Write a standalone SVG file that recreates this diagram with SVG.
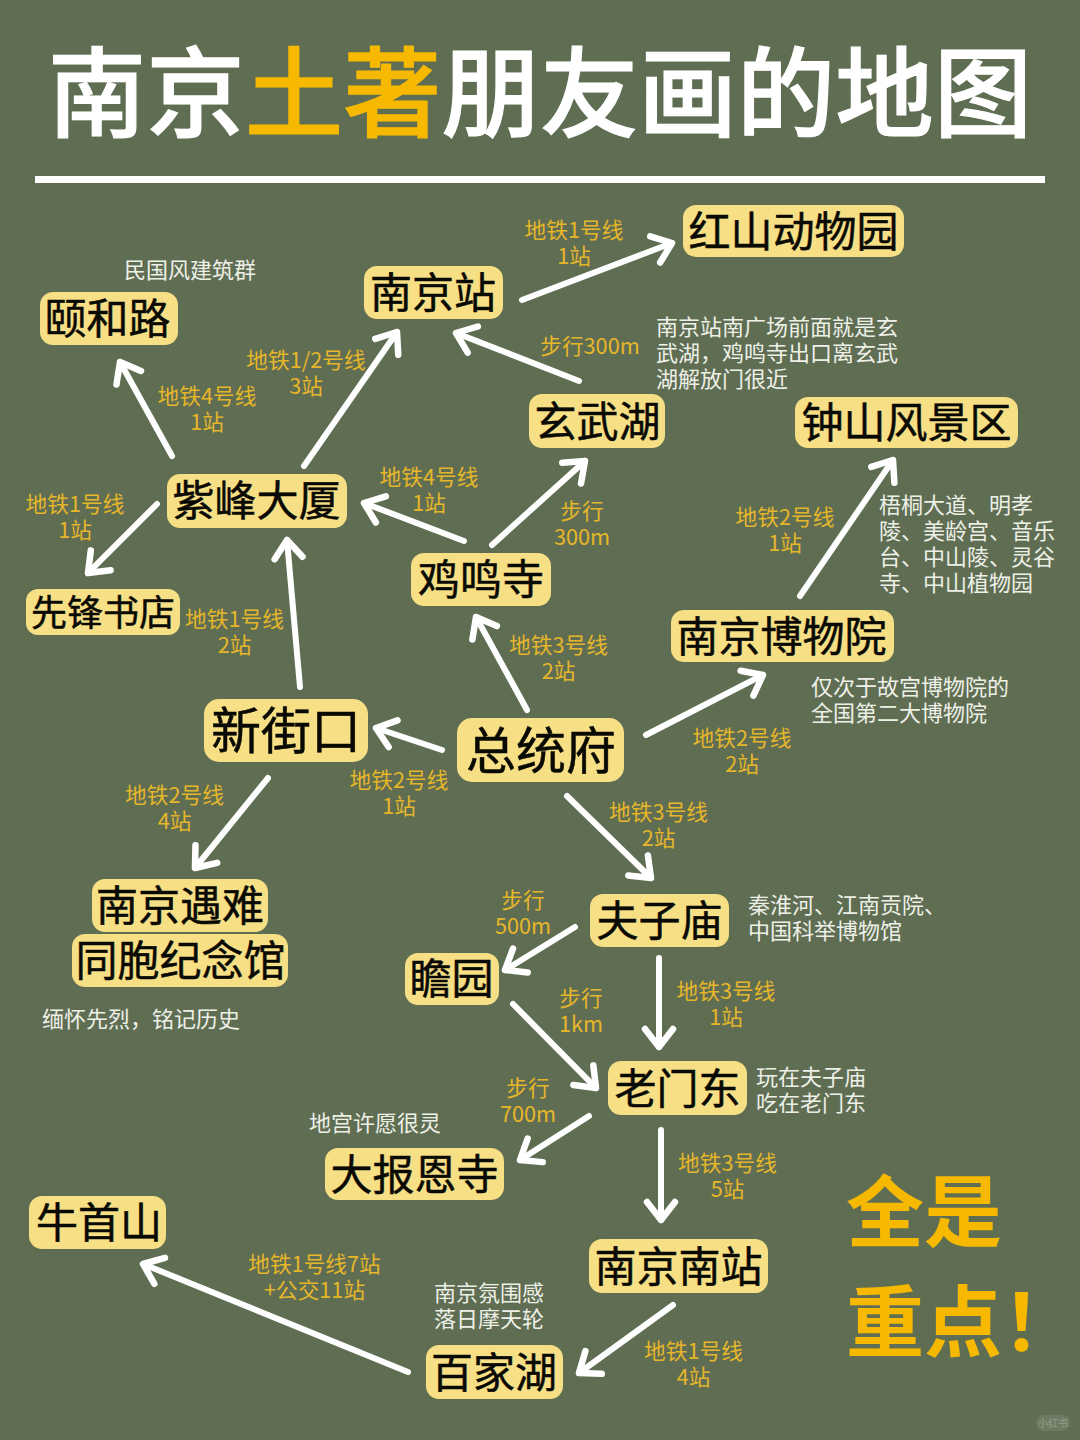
<svg xmlns="http://www.w3.org/2000/svg" width="1080" height="1440" viewBox="0 0 1080 1440">
<style>
text{font-family:"Noto Sans CJK SC","Noto Sans",sans-serif}
.t{font-size:98px;font-weight:500;fill:#fff;stroke:#fff;stroke-width:1.2}
.t .ty{fill:#f6b900;stroke:#f6b900}
.n rect{fill:#f7df85}
.n text{fill:#0a0a05;text-anchor:middle;font-weight:400;stroke:#0a0a05;stroke-width:.5}
.l{font-size:21.7px;fill:#e6b62a;text-anchor:middle}
.c{font-size:22px;fill:#eef0e8}
.b{font-size:78px;font-weight:700;fill:#f6b900}
#connectors path{fill:none;stroke:#fff;stroke-width:6;stroke-linecap:round;marker-end:url(#a)}
</style>
<defs><marker id="a" markerUnits="userSpaceOnUse" markerWidth="44" markerHeight="44" refX="30" refY="22" orient="auto"><path d="M12 8L30 22L12 36" fill="none" stroke="#fff" stroke-width="6.5" stroke-linecap="round" stroke-linejoin="round"/></marker></defs>
<rect width="1080" height="1440" fill="#5f6e53"/>
<g id="title"><text class="t" x="48" y="129" textLength="984">南京<tspan class="ty">土著</tspan>朋友画的地图</text>
<rect x="35" y="176" width="1010" height="7" fill="#fff"/></g>
<g id="connectors">
<path d="M304 466L397 332"/>
<path d="M172 456L120 362"/>
<path d="M522 300L672 243"/>
<path d="M579 381L456 333"/>
<path d="M492 545L585 461"/>
<path d="M464 541L364 503"/>
<path d="M157 504L88 573"/>
<path d="M300 687L287 540"/>
<path d="M527 710L476 617"/>
<path d="M646 735L763 675"/>
<path d="M800 596L893 460"/>
<path d="M442 750L376 728"/>
<path d="M268 778L195 868"/>
<path d="M567 796L651 878"/>
<path d="M575 927L505 970"/>
<path d="M659 958L659 1047"/>
<path d="M513 1004L596 1088"/>
<path d="M589 1116L520 1160"/>
<path d="M661 1130L661 1220"/>
<path d="M673 1305L579 1373"/>
<path d="M408 1372L143 1264"/>
</g>
<g id="n1" class="n"><rect x="683" y="205" width="221" height="52" rx="13"/><text x="793.500" y="247" font-size="42">红山动物园</text></g>
<g id="n2" class="n"><rect x="364" y="266" width="139" height="53" rx="13"/><text x="433" y="308" font-size="42">南京站</text></g>
<g id="n3" class="n"><rect x="40" y="292" width="138" height="53" rx="13"/><text x="107.500" y="334" font-size="42">颐和路</text></g>
<g id="n4" class="n"><rect x="529" y="394" width="136" height="54" rx="13"/><text x="597.500" y="437" font-size="42">玄武湖</text></g>
<g id="n5" class="n"><rect x="795" y="397" width="223" height="51" rx="13"/><text x="906.500" y="438" font-size="42">钟山风景区</text></g>
<g id="n6" class="n"><rect x="167" y="474" width="180" height="54" rx="13"/><text x="256.500" y="516" font-size="42">紫峰大厦</text></g>
<g id="n7" class="n"><rect x="411" y="553" width="140" height="53" rx="13"/><text x="481" y="595" font-size="42">鸡鸣寺</text></g>
<g id="n8" class="n"><rect x="26" y="589" width="154" height="46" rx="12"/><text x="103" y="626" font-size="36">先锋书店</text></g>
<g id="n9" class="n"><rect x="671" y="610" width="223" height="52" rx="13"/><text x="781.500" y="652" font-size="42">南京博物院</text></g>
<g id="n10" class="n"><rect x="204" y="699" width="164" height="63" rx="15"/><text x="286" y="749" font-size="50">新街口</text></g>
<g id="n11" class="n"><rect x="457" y="718" width="167" height="64" rx="15"/><text x="541" y="769" font-size="50">总统府</text></g>
<g id="n12" class="n"><rect x="92" y="879" width="176" height="53" rx="13"/><text x="180" y="921" font-size="42">南京遇难</text></g>
<g id="n13" class="n"><rect x="72" y="934" width="216" height="53" rx="13"/><text x="180.500" y="976" font-size="42">同胞纪念馆</text></g>
<g id="n14" class="n"><rect x="590" y="894" width="139" height="53" rx="13"/><text x="659.500" y="936" font-size="42">夫子庙</text></g>
<g id="n15" class="n"><rect x="405" y="953" width="94" height="52" rx="13"/><text x="451.500" y="994" font-size="42">瞻园</text></g>
<g id="n16" class="n"><rect x="608" y="1061" width="139" height="54" rx="13"/><text x="677.500" y="1104" font-size="42">老门东</text></g>
<g id="n17" class="n"><rect x="325" y="1148" width="179" height="52" rx="13"/><text x="414.500" y="1190" font-size="42">大报恩寺</text></g>
<g id="n18" class="n"><rect x="29" y="1196" width="137" height="53" rx="13"/><text x="99" y="1238" font-size="42">牛首山</text></g>
<g id="n19" class="n"><rect x="589" y="1239" width="179" height="54" rx="13"/><text x="678.500" y="1282" font-size="42">南京南站</text></g>
<g id="n20" class="n"><rect x="426" y="1345" width="137" height="54" rx="13"/><text x="494" y="1388" font-size="42">百家湖</text></g>
<g id="labels">
<text class="l" y="238"><tspan x="574">地铁1号线</tspan><tspan x="574" dy="26">1站</tspan></text>
<text class="l" y="368"><tspan x="306">地铁1/2号线</tspan><tspan x="306" dy="26">3站</tspan></text>
<text class="l" y="404"><tspan x="207">地铁4号线</tspan><tspan x="207" dy="26">1站</tspan></text>
<text class="l" x="590" y="354">步行300m</text>
<text class="l" y="485"><tspan x="429">地铁4号线</tspan><tspan x="429" dy="26">1站</tspan></text>
<text class="l" y="512"><tspan x="75">地铁1号线</tspan><tspan x="75" dy="26">1站</tspan></text>
<text class="l" y="519"><tspan x="582">步行</tspan><tspan x="582" dy="26">300m</tspan></text>
<text class="l" y="525"><tspan x="785">地铁2号线</tspan><tspan x="785" dy="26">1站</tspan></text>
<text class="l" y="627"><tspan x="234.500">地铁1号线</tspan><tspan x="234.500" dy="26">2站</tspan></text>
<text class="l" y="653"><tspan x="558.500">地铁3号线</tspan><tspan x="558.500" dy="26">2站</tspan></text>
<text class="l" y="746"><tspan x="742">地铁2号线</tspan><tspan x="742" dy="26">2站</tspan></text>
<text class="l" y="788"><tspan x="399">地铁2号线</tspan><tspan x="399" dy="26">1站</tspan></text>
<text class="l" y="803"><tspan x="174.500">地铁2号线</tspan><tspan x="174.500" dy="26">4站</tspan></text>
<text class="l" y="820"><tspan x="658.500">地铁3号线</tspan><tspan x="658.500" dy="26">2站</tspan></text>
<text class="l" y="908"><tspan x="523">步行</tspan><tspan x="523" dy="26">500m</tspan></text>
<text class="l" y="999"><tspan x="726">地铁3号线</tspan><tspan x="726" dy="26">1站</tspan></text>
<text class="l" y="1006"><tspan x="581">步行</tspan><tspan x="581" dy="26">1km</tspan></text>
<text class="l" y="1096"><tspan x="528">步行</tspan><tspan x="528" dy="26">700m</tspan></text>
<text class="l" y="1171"><tspan x="727.500">地铁3号线</tspan><tspan x="727.500" dy="26">5站</tspan></text>
<text class="l" y="1272"><tspan x="314.500">地铁1号线7站</tspan><tspan x="314.500" dy="26">+公交11站</tspan></text>
<text class="l" y="1359"><tspan x="693.500">地铁1号线</tspan><tspan x="693.500" dy="26">4站</tspan></text>
</g>
<g id="notes">
<text class="c" x="124" y="278">民国风建筑群</text>
<text class="c" y="335"><tspan x="656">南京站南广场前面就是玄</tspan><tspan x="656" dy="26">武湖，鸡鸣寺出口离玄武</tspan><tspan x="656" dy="26">湖解放门很近</tspan></text>
<text class="c" y="513"><tspan x="879">梧桐大道、明孝</tspan><tspan x="879" dy="26">陵、美龄宫、音乐</tspan><tspan x="879" dy="26">台、中山陵、灵谷</tspan><tspan x="879" dy="26">寺、中山植物园</tspan></text>
<text class="c" y="695"><tspan x="811">仅次于故宫博物院的</tspan><tspan x="811" dy="26">全国第二大博物院</tspan></text>
<text class="c" y="913"><tspan x="748">秦淮河、江南贡院、</tspan><tspan x="748" dy="26">中国科举博物馆</tspan></text>
<text class="c" x="42" y="1027">缅怀先烈，铭记历史</text>
<text class="c" y="1085"><tspan x="756">玩在夫子庙</tspan><tspan x="756" dy="26">吃在老门东</tspan></text>
<text class="c" x="309" y="1131">地宫许愿很灵</text>
<text class="c" y="1301"><tspan x="434">南京氛围感</tspan><tspan x="434" dy="26">落日摩天轮</tspan></text>
</g>
<g id="slogan"><text class="b" x="846" y="1241">全是<tspan x="846" dy="110">重点！</tspan></text></g>
<g id="mark"><rect x="1036" y="1415" width="34" height="16" rx="8" fill="#fff" opacity=".09"/><text x="1053" y="1427" font-size="10" text-anchor="middle" fill="#fff" opacity=".25">小红书</text></g>
</svg>
